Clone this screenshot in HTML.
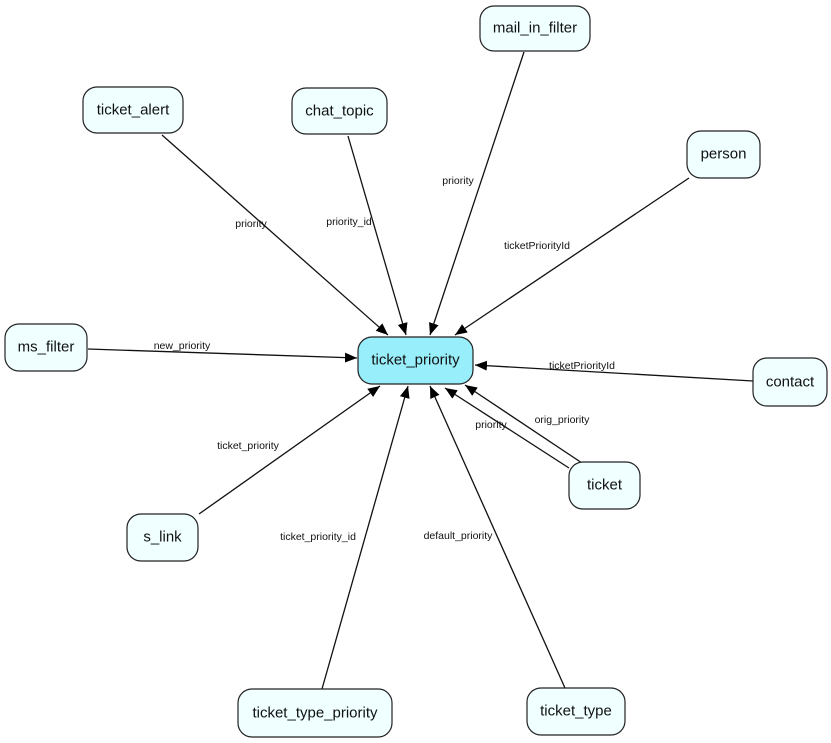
<!DOCTYPE html>
<html><head><meta charset="utf-8"><style>
html,body{margin:0;padding:0;background:#fff;}
svg{display:block;}
.n{fill:#f0ffff;stroke:#222;stroke-width:1.2;}
.c{fill:#98eefa;stroke:#222;stroke-width:1.2;}
.t{font-family:"Liberation Sans",Arial,sans-serif;font-size:15px;fill:#111;text-anchor:middle;dominant-baseline:central;}
.l{font-family:"Liberation Sans",Arial,sans-serif;font-size:10.5px;fill:#111;text-anchor:middle;dominant-baseline:central;}
line{stroke:#111;stroke-width:1.3;}
</style></head><body>
<svg width="831" height="743" viewBox="0 0 831 743" xmlns="http://www.w3.org/2000/svg">
<defs><marker id="a" markerWidth="12" markerHeight="10" refX="12" refY="5" orient="auto" markerUnits="userSpaceOnUse"><path d="M0,0 L12,5 L0,10 z" fill="#000"/></marker></defs>
<line x1="162" y1="135" x2="388" y2="335" marker-end="url(#a)"/>
<line x1="348" y1="136" x2="406" y2="335" marker-end="url(#a)"/>
<line x1="524" y1="52" x2="430" y2="335" marker-end="url(#a)"/>
<line x1="689" y1="178" x2="455" y2="335" marker-end="url(#a)"/>
<line x1="88" y1="349" x2="357" y2="358" marker-end="url(#a)"/>
<line x1="753" y1="381" x2="475" y2="365" marker-end="url(#a)"/>
<line x1="582" y1="463" x2="465" y2="385" marker-end="url(#a)"/>
<line x1="569" y1="468" x2="445" y2="388" marker-end="url(#a)"/>
<line x1="199" y1="514" x2="380" y2="386" marker-end="url(#a)"/>
<line x1="322" y1="689" x2="408" y2="386" marker-end="url(#a)"/>
<line x1="565" y1="688" x2="430" y2="386" marker-end="url(#a)"/>
<text class="l" x="251" y="224">priority</text>
<text class="l" x="349" y="222">priority_id</text>
<text class="l" x="458" y="181">priority</text>
<text class="l" x="537" y="246">ticketPriorityId</text>
<text class="l" x="182" y="346">new_priority</text>
<text class="l" x="582" y="366">ticketPriorityId</text>
<text class="l" x="562" y="420">orig_priority</text>
<text class="l" x="491" y="425">priority</text>
<text class="l" x="248" y="446">ticket_priority</text>
<text class="l" x="318" y="537">ticket_priority_id</text>
<text class="l" x="458" y="536">default_priority</text>
<rect class="c" x="358" y="337" width="115" height="47" rx="14"/><text class="t" x="415.5" y="360">ticket_priority</text>
<rect class="n" x="480" y="6" width="110" height="45" rx="14"/><text class="t" x="535" y="28">mail_in_filter</text>
<rect class="n" x="83" y="87" width="100" height="46" rx="14"/><text class="t" x="133" y="110">ticket_alert</text>
<rect class="n" x="292" y="88" width="95" height="46" rx="14"/><text class="t" x="339.5" y="111">chat_topic</text>
<rect class="n" x="687" y="131" width="73" height="47" rx="14"/><text class="t" x="723.5" y="154">person</text>
<rect class="n" x="5" y="324" width="82" height="47" rx="14"/><text class="t" x="46" y="347">ms_filter</text>
<rect class="n" x="753" y="358" width="74" height="48" rx="14"/><text class="t" x="790" y="382">contact</text>
<rect class="n" x="569" y="462" width="71" height="47" rx="14"/><text class="t" x="604.5" y="485">ticket</text>
<rect class="n" x="127" y="514" width="71" height="47" rx="14"/><text class="t" x="162.5" y="537">s_link</text>
<rect class="n" x="238" y="689" width="154" height="48" rx="14"/><text class="t" x="315" y="713">ticket_type_priority</text>
<rect class="n" x="527" y="688" width="98" height="47" rx="14"/><text class="t" x="576" y="711">ticket_type</text>
</svg>
</body></html>
